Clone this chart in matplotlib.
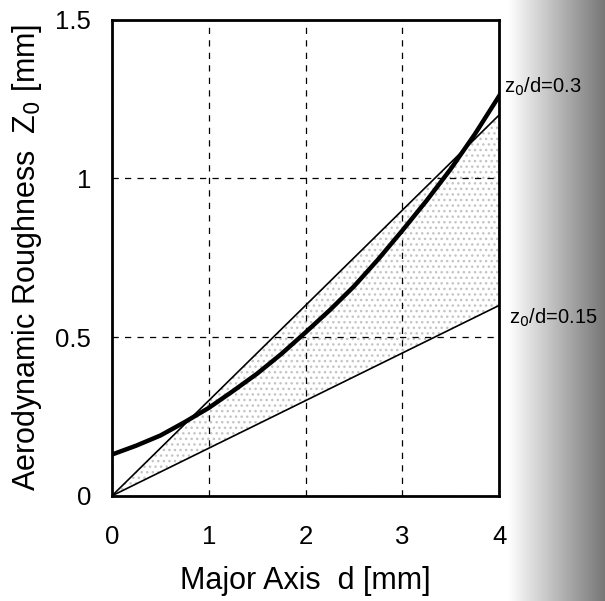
import numpy as np
from matplotlib import pyplot as plt

d_curve = [0, 0.25, 0.5, 0.75, 1, 1.25, 1.5, 1.75, 2, 2.25, 2.5, 2.75, 3, 3.25, 3.5, 3.75, 4]
z_curve = [0.13, 0.158, 0.19, 0.232, 0.277, 0.33, 0.385, 0.447, 0.515, 0.585, 0.66, 0.745, 0.836, 0.93, 1.03, 1.14, 1.26]
d_line = [0, 4]
ratio_hi = 0.3
ratio_lo = 0.15
xticks = [0, 1, 2, 3, 4]
yticks = [0, 0.5, 1, 1.5]
ytick_labels = ["0", "0.5", "1", "1.5"]

plt.rcParams['font.family'] = ['Liberation Sans', 'DejaVu Sans']

fig = plt.figure(figsize=(6.05, 6.01), dpi=100)

# grey page edge of the scan on the right
bg = fig.add_axes([0.84, 0, 0.16, 1])
grad = np.linspace(1.0, 0.5, 200) ** 1.1
bg.imshow(np.tile(grad, (10, 1)), cmap='gray', vmin=0, vmax=1, aspect='auto',
          extent=[0, 1, 0, 1])
bg.axis('off')

ax = fig.add_axes([0.185, 0.175, 0.64, 0.792])
ax.set_zorder(2)
ax.patch.set_alpha(0)

dl = np.array(d_line)
# dotted scatter band between the two lines
ax.fill_between(dl, ratio_lo * dl, ratio_hi * dl, facecolor='none',
                edgecolor='#c4c4c4', hatch='...', linewidth=0)

ax.plot(dl, ratio_hi * dl, color='black', lw=1.2)
ax.plot(dl, ratio_lo * dl, color='black', lw=1.2)
ax.plot(d_curve, z_curve, color='black', lw=3.2)

ax.set_xlim(0, 4)
ax.set_ylim(0, 1.5)
ax.set_xticks(xticks)
ax.set_yticks(yticks)
ax.set_yticklabels(ytick_labels)
ax.tick_params(length=0, labelsize=18.5)
ax.tick_params(axis='x', pad=21)
ax.tick_params(axis='y', pad=15)
ax.grid(True, color='black', linestyle=(0, (5, 5)), lw=0.9)
for s in ax.spines.values():
    s.set_linewidth(2)

ax.set_xlabel("Major Axis  d [mm]", fontsize=22, labelpad=12)
ax.set_ylabel("Aerodynamic Roughness  Z$_0$ [mm]", fontsize=22, labelpad=8)

ax.text(4.05, 1.29, "z$_0$/d=0.3", fontsize=14.5, ha='left', va='center', clip_on=False)
ax.text(4.1, 0.56, "z$_0$/d=0.15", fontsize=14.5, ha='left', va='center', clip_on=False)

plt.savefig('out.png', dpi=100)
